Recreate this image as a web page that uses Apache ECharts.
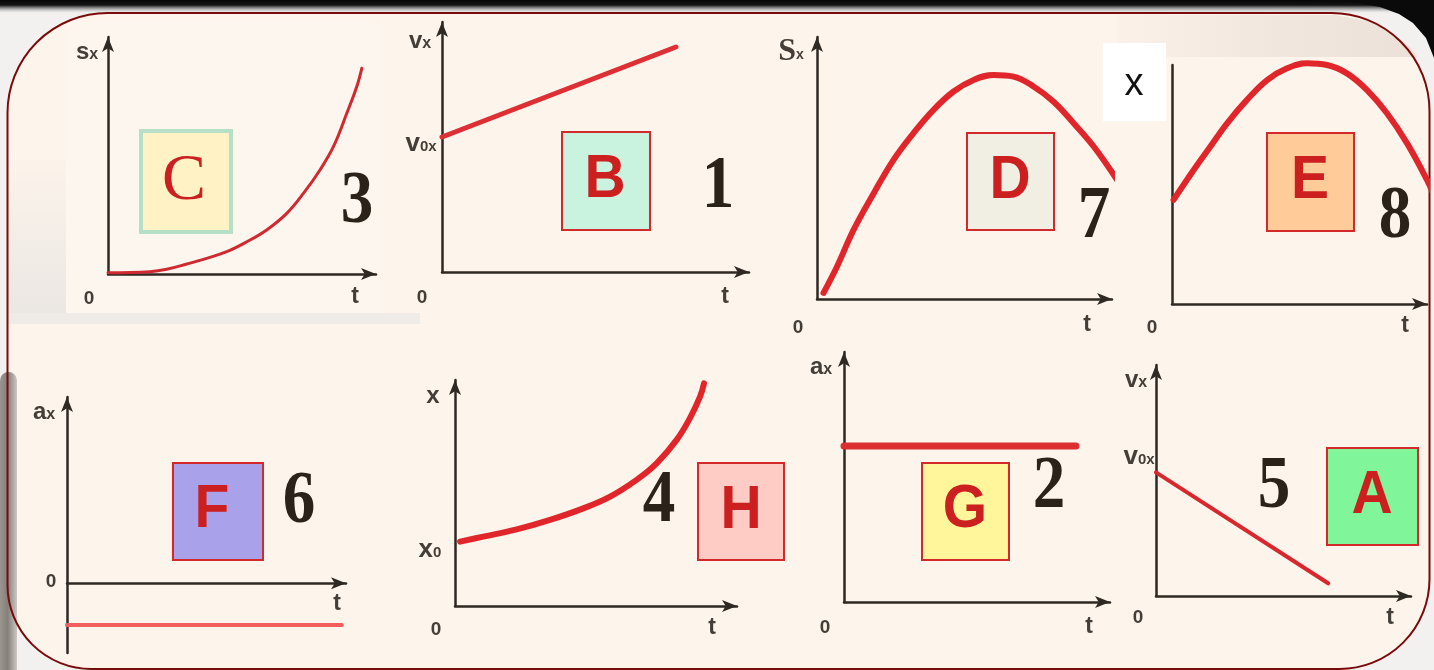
<!DOCTYPE html>
<html>
<head>
<meta charset="utf-8">
<script src="https://cdn.jsdelivr.net/npm/echarts@6/dist/echarts.min.js"></script>
<style>
html, body { margin: 0; padding: 0; background: #f3f1ef; }
#main { width: 1434px; height: 670px; }
</style>
</head>
<body>
<div id="main"></div>
<script>
// values, axes run 0..10 in every small graph
// C / 3 : s(t), flat start then rising
const tC = [0, 1.57, 2.19, 2.94, 3.68, 4.43, 5.18, 5.92, 6.67, 7.29, 7.91, 8.41, 8.91, 9.28, 9.47]
const sC = [0.05, 0.1, 0.2, 0.42, 0.66, 0.94, 1.36, 1.86, 2.56, 3.4, 4.39, 5.37, 6.78, 7.9, 8.68]
// B / 1 : v(t) rising straight line from v0
const tB = [0, 7.62]
const vB = [5.4, 9.0]
// D / 7 : s(t) arch from the origin
const tD = [0.22, 0.68, 1.24, 1.92, 2.6, 3.27, 3.95, 4.63, 5.31, 5.99, 6.66, 7.34, 8.02, 8.7, 9.38, 10.17]
const sD = [0.23, 1.24, 2.64, 4.03, 5.32, 6.33, 7.22, 7.92, 8.36, 8.55, 8.49, 8.11, 7.53, 6.71, 5.82, 4.55]
// E / 8 : x(t) arch from x0
const tE = [0.06, 0.85, 1.5, 2.16, 2.94, 3.73, 4.51, 5.29, 6.08, 6.86, 7.65, 8.43, 9.22, 10, 10.29]
const xE = [4.36, 5.61, 6.58, 7.56, 8.54, 9.37, 9.86, 10.07, 10.0, 9.65, 8.95, 7.98, 6.72, 5.19, 4.5]
// F / 6 : constant negative a
const tF = [0, 9.85]
const aF = [-1.8, -1.8]
// H / 4 : x(t) rising from x0
const tH = [0.18, 1.0, 2.19, 3.37, 4.55, 5.5, 6.44, 7.15, 7.86, 8.33, 8.69, 8.83]
const xH = [2.85, 3.07, 3.39, 3.81, 4.32, 4.84, 5.58, 6.31, 7.35, 8.31, 9.26, 9.85]
// G / 2 : constant positive a
const tG = [0, 8.72]
const aG = [6.24, 6.24]
// A / 5 : v(t) falling straight line from v0
const tA = [0, 6.75]
const vA = [5.35, 0.55]

const letters = ['C', 'B', 'D', 'E', 'F', 'H', 'G', 'A']
const numbers = ['3', '1', '7', '8', '6', '4', '2', '5']
const yNames = [['s', 'x'], ['v', 'x'], ['S', 'x'], ['x', ''], ['a', 'x'], ['x', ''], ['a', 'x'], ['v', 'x']]

const SANS = '"Liberation Sans Narrow", "Liberation Sans", Arial, sans-serif'
const SERIF = '"Liberation Serif", "Times New Roman", serif'
const AXIS = '#2e2923'
const LBL = '#433e38'

// layout of the eight little graphs
const panels = [
  {t: tC, y: sC, box: [141, 131, 90, 101], fill: '#fff2c4', edge: '#b6dfc7', ew: 4, serif: true, lp: [184, 182], np: [357, 203],
    grid: [108, 37, 376, 274], ymin: 0, ymax: 10, color: '#cf2a30', w: 3, name: [87, 52], zero: [89, 299], tl: [355, 297]},
  {t: tB, y: vB, box: [562, 132, 88, 98], fill: '#c9f3de', edge: '#d4292a', ew: 2, lp: [605, 180], np: [718, 188],
    grid: [442, 22, 749, 272], ymin: 0, ymax: 10, color: '#de2f35', w: 5, name: [420, 41], zero: [422, 298], tl: [725, 297], v0: [421, 144]},
  {t: tD, y: sD, box: [967, 133, 87, 97], fill: '#f1efe3', edge: '#d4292a', ew: 2, lp: [1010, 181], np: [1094, 218],
    grid: [817, 37, 1112, 299], ymin: 0, ymax: 10, color: '#e0262a', w: 6, name: [791, 52], zero: [798, 328], tl: [1087, 325]},
  {t: tE, y: xE, box: [1267, 133, 87, 98], fill: '#ffcc99', edge: '#d4292a', ew: 2, lp: [1310, 181], np: [1395, 218],
    grid: [1172, 65, 1427, 304], ymin: 0, ymax: 10, color: '#e0262a', w: 6, noArrowY: true, zero: [1152, 328], tl: [1405, 326]},
  {t: tF, y: aF, box: [173, 463, 90, 97], fill: '#a9a1ea', edge: '#d4292a', ew: 2, lp: [212, 510], np: [299, 503],
    grid: [67, 397, 346, 653], ymin: -3, ymax: 8, color: '#f25e5e', w: 4, name: [44, 412], zero: [51, 582], tl: [337, 604]},
  {t: tH, y: xH, box: [698, 463, 86, 97], fill: '#ffccc5', edge: '#d4292a', ew: 2, lp: [741, 511], np: [659, 502],
    grid: [455, 380, 737, 606], ymin: 0, ymax: 10, color: '#e0262a', w: 6, name: [433, 396], zero: [436, 630], tl: [712, 628], x0: [430, 550]},
  {t: tG, y: aG, box: [922, 463, 87, 97], fill: '#fff59a', edge: '#d4292a', ew: 2, lp: [965, 510], np: [1049, 488],
    grid: [844, 352, 1110, 602], ymin: 0, ymax: 10, color: '#dd2e32', w: 7, name: [821, 367], zero: [825, 628], tl: [1089, 627]},
  {t: tA, y: vA, box: [1327, 448, 91, 97], fill: '#80f59a', edge: '#d4292a', ew: 2, lp: [1372, 496], np: [1274, 488],
    grid: [1156, 365, 1411, 596], ymin: 0, ymax: 10, color: '#d9272d', w: 4, name: [1136, 380], zero: [1138, 618], tl: [1390, 618], v0: [1139, 457]}
]

const chart = echarts.init(document.getElementById('main'), null, {renderer: 'canvas'})

const grids = [], xAxes = [], yAxes = [], series = []
const axisLine = (arrow) => ({
  show: true, onZero: true,
  symbol: arrow ? ['none', 'arrow'] : 'none', symbolSize: [9, 15],
  lineStyle: {color: AXIS, width: 2.5}
})
panels.forEach((p, i) => {
  const [l, t, r, b] = p.grid
  grids.push({left: l, top: t, width: r - l, height: b - t, containLabel: false})
  xAxes.push({type: 'value', gridIndex: i, min: 0, max: 10, axisLine: axisLine(true),
    axisTick: {show: false}, axisLabel: {show: false}, splitLine: {show: false}})
  yAxes.push({type: 'value', gridIndex: i, min: p.ymin, max: p.ymax, axisLine: axisLine(!p.noArrowY),
    axisTick: {show: false}, axisLabel: {show: false}, splitLine: {show: false}})
  series.push({
    type: 'line', xAxisIndex: i, yAxisIndex: i, z: 3,
    data: p.t.map((v, k) => [v, p.y[k]]),
    smooth: p.t.length > 2 ? 0.4 : false, showSymbol: false, clip: false,
    lineStyle: {color: p.color, width: p.w, cap: 'round', join: 'round'}
  })
})

function txt (x, y, text, font, fill, extra) {
  return Object.assign({type: 'text', x: x, y: y, z: 20,
    style: {text: text, font: font, fill: fill, align: 'center', verticalAlign: 'middle'}}, extra || {})
}
function sub (x, y, main, small, bigSize, smallSize, family) {
  return {type: 'text', x: x, y: y, z: 20, style: {
    text: '{m|' + main + '}' + (small ? '{s|' + small + '}' : ''), align: 'center', verticalAlign: 'middle',
    rich: {
      m: {fontSize: bigSize, fontWeight: 'bold', fontFamily: family || SANS, fill: LBL},
      s: {fontSize: smallSize, fontWeight: 'bold', fontFamily: SANS, fill: LBL, padding: [6, 0, 0, 0]}
    }}}
}

const W = 1434, H = 670
const graphic = [
  {type: 'rect', z: -30, shape: {x: 0, y: 0, width: W, height: H}, style: {fill: '#f2f1f0'}},
  {type: 'rect', z: -29, shape: {x: 0, y: 0, width: W, height: 13},
    style: {fill: new echarts.graphic.LinearGradient(0, 0, 0, 1, [
      {offset: 0, color: '#050505'}, {offset: 0.4, color: '#161616'}, {offset: 1, color: 'rgba(235,235,235,0.2)'}])}},
  {type: 'polygon', z: -29, shape: {points: [[1300, 0], [W, 0], [W, 58], [1426, 38], [1413, 23], [1399, 14], [1380, 7], [1358, 3], [1330, 1]]},
    style: {fill: '#0a0a0a'}},
  {type: 'rect', z: -28, shape: {x: 7.5, y: 13, width: 1422, height: 656, r: [100, 98, 90, 84]}, style: {fill: '#fdf4eb'}},
  // soft grey shading left by the underlying slide
  {type: 'rect', z: -27, shape: {x: 8, y: 150, width: 58, height: 164},
    style: {fill: new echarts.graphic.LinearGradient(0, 0, 0, 1, [
      {offset: 0, color: 'rgba(236,232,228,0)'}, {offset: 1, color: '#ebe7e3'}])}},
  {type: 'rect', z: -27, shape: {x: 8, y: 313, width: 412, height: 11}, style: {fill: '#efebe7'}},
  {type: 'rect', z: -27, shape: {x: 66, y: 22, width: 316, height: 291}, style: {fill: '#fdf6ef'}},
  {type: 'polygon', z: -27, shape: {points: [[1117, 15], [1335, 15], [1368, 21], [1393, 33], [1410, 47], [1418, 57], [1117, 57]]},
    style: {fill: new echarts.graphic.LinearGradient(0, 0, 1, 0, [
      {offset: 0, color: '#fbf1e8'}, {offset: 0.5, color: '#f1e7de'}, {offset: 1, color: '#ebe1d8'}])}},
  {type: 'rect', z: -26, shape: {x: 0, y: 372, width: 17, height: 298, r: [10, 10, 0, 0]},
    style: {fill: new echarts.graphic.LinearGradient(0, 0, 1, 0, [
      {offset: 0, color: '#9b958f'}, {offset: 0.45, color: '#85807a'}, {offset: 1, color: '#cdc8c3'}])}},
  {type: 'rect', z: -25, shape: {x: 7.5, y: 13, width: 1422, height: 656, r: [100, 98, 90, 84]},
    style: {fill: 'none', stroke: '#7a0b0b', lineWidth: 2}},
  // white tag with the x of graph E
  {type: 'rect', z: 15, shape: {x: 1103, y: 43, width: 63, height: 78}, style: {fill: '#ffffff'}},
  txt(1134, 85, 'x', '38px "Liberation Sans", Arial, sans-serif', '#111111')
]

panels.forEach((p, i) => {
  const [bx, by, bw, bh] = p.box
  graphic.push({type: 'rect', z: 16, shape: {x: bx, y: by, width: bw, height: bh},
    style: {fill: p.fill, stroke: p.edge, lineWidth: p.ew}})
  graphic.push(txt(p.lp[0], p.lp[1], letters[i],
    p.serif ? '66px ' + SERIF : 'bold 62px "Liberation Sans", Arial, sans-serif', '#cc2020', {scaleX: p.serif ? 1 : 0.92}))
  graphic.push(txt(p.np[0], p.np[1], numbers[i], 'bold 74px ' + SERIF, '#2b2219', {scaleX: 0.88}))
  if (p.name) {
    const nm = yNames[i]
    if (nm[0] === 'S') graphic.push(sub(p.name[0], p.name[1], 'S', 'x', 32, 14, SERIF))
    else graphic.push(sub(p.name[0], p.name[1], nm[0], nm[1], 24, 16))
  }
  graphic.push(txt(p.zero[0], p.zero[1], '0', 'bold 19px ' + SANS, LBL))
  graphic.push(txt(p.tl[0], p.tl[1], 't', 'bold 23px ' + SANS, LBL))
  if (p.v0) graphic.push(sub(p.v0[0], p.v0[1], 'v', '0x', 26, 15))
  if (p.x0) graphic.push(sub(p.x0[0], p.x0[1], 'x', '0', 26, 15))
})

chart.setOption({
  animation: false,
  grid: grids,
  xAxis: xAxes,
  yAxis: yAxes,
  series: series,
  graphic: graphic
})
</script>
</body>
</html>
